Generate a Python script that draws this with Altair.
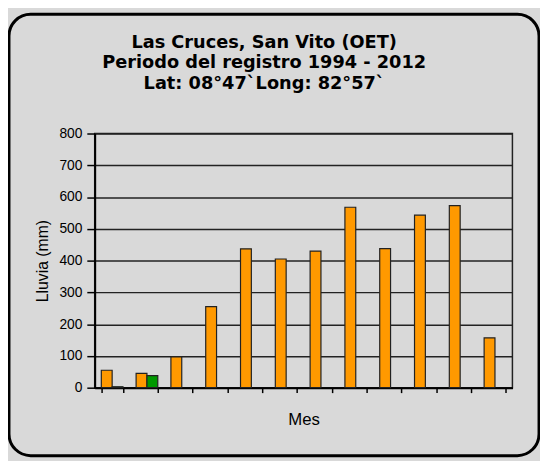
import altair as alt
import pandas as pd

months = ["Ene", "Feb", "Mar", "Abr", "May", "Jun", "Jul", "Ago", "Sep", "Oct", "Nov", "Dic"]
series_names = ["Promedio", "Serie 2"]
promedio = [55, 45, 97, 255, 437, 405, 430, 568, 438, 543, 573, 157]
serie2_months = ["Ene", "Feb"]
serie2 = [3, 38]
colors = ["#FF9900", "#009900"]

title_lines = ["Las Cruces, San Vito (OET)", "Periodo del registro 1994 - 2012", "Lat: 08°47`Long: 82°57`"]
y_ticks = [0, 100, 200, 300, 400, 500, 600, 700, 800]

rows = [{"mes": m, "serie": series_names[0], "lluvia": v} for m, v in zip(months, promedio)]
rows += [{"mes": m, "serie": series_names[1], "lluvia": v} for m, v in zip(serie2_months, serie2)]
df = pd.DataFrame(rows)

W, H = 424, 258
PL, PT, PR, PB = 88, 124, 28, 71

bars = alt.Chart(df).mark_bar(stroke="#222222", strokeWidth=1.2).encode(
    x=alt.X("mes:N", sort=months,
            scale=alt.Scale(paddingInner=0.377, paddingOuter=0.19),
            axis=alt.Axis(title="Mes", labels=False, tickBand="extent", ticks=True,
                          tickSize=5, tickColor="black", tickWidth=1.5,
                          domainColor="black", domainWidth=2,
                          titleFont="Liberation Sans", titleFontSize=17,
                          titleFontWeight="normal", titlePadding=19, titleColor="black",
                          grid=False)),
    xOffset=alt.XOffset("serie:N", sort=series_names,
                        scale=alt.Scale(domain=series_names, paddingInner=0, paddingOuter=0)),
    y=alt.Y("lluvia:Q",
            scale=alt.Scale(domain=[0, 800], nice=False),
            axis=alt.Axis(title="Lluvia (mm)", values=y_ticks, tickSize=8,
                          tickColor="black", tickWidth=1.5,
                          domainColor="black", domainWidth=2,
                          labelFont="Liberation Sans", labelFontSize=14, labelColor="black",
                          labelPadding=5,
                          titleFont="Liberation Sans", titleFontSize=16,
                          titleFontWeight="normal", titleColor="black", titlePadding=9,
                          grid=True, gridColor="#222222", gridWidth=1.5)),
    color=alt.Color("serie:N", scale=alt.Scale(domain=series_names, range=colors), legend=None),
)

frame = alt.Chart(alt.Data(values=[{"f": 1}])).mark_rect(
    fillOpacity=0, stroke="black", strokeWidth=3, cornerRadius=22
).encode(
    x=alt.value(-87), x2=alt.value(451), y=alt.value(-121), y2=alt.value(327)
)

title = alt.Chart(alt.Data(values=[{"f": 1}])).mark_text(
    font="DejaVu Sans", fontSize=18, fontWeight="bold", color="black",
    align="center", baseline="alphabetic", lineHeight=21
).encode(
    x=alt.value(172), y=alt.value(-87), text=alt.value(title_lines)
)

chart = alt.layer(bars, frame, title).properties(
    width=W, height=H,
    autosize=alt.AutoSizeParams(type="none"),
    padding={"left": PL, "top": PT, "right": PR, "bottom": PB},
).configure(background="#d9d9d9").configure_view(stroke="#222222", strokeWidth=1.5)

chart.save("out.html", embed_options={"renderer": "svg", "actions": False})
